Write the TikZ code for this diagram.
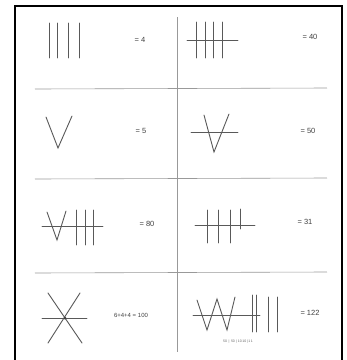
\documentclass[tikz,border=0pt]{standalone}
\usepackage{fontspec}
\setmainfont{Liberation Sans}
\begin{document}
\begin{tikzpicture}[x=1pt,y=-1pt,
  stroke/.style={draw=black!65,line width=0.9pt,line cap=round},
  grid/.style={draw=black!40,line width=0.6pt},
  lab/.style={font=\fontsize{7.5}{8}\selectfont,text=black!75,inner sep=1pt},
  sub/.style={font=\fontsize{3.5}{4}\selectfont,text=black!60,inner sep=0.5pt}]
\useasboundingbox (0,0) rectangle (347,360);
\fill[white] (0,0) rectangle (347,360);
\draw[line width=1.6pt] (15,6) rectangle (342,361);
% grid
\draw[grid] (177,17) -- (177,352);
\draw[grid] (35,89) -- (327,88);
\draw[grid] (35,179) -- (327,178);
\draw[grid] (35,273) -- (327,272);
% row 1 left: 4
\foreach \x in {49,57,68,79} \draw[stroke] (\x,23) -- (\x,58);
\node[lab] (l1) at (140,40) {= 4};
% row 1 right: 40
\foreach \x in {196,205,213,222} \draw[stroke] (\x,22) -- (\x,58);
\draw[stroke] (187,40) -- (238,40);
\node[lab] (l2) at (310,37) {= 40};
% row 2 left: V
\draw[stroke] (46,117) -- (58,148) -- (72,116);
\node[lab] (l3) at (141,131) {= 5};
% row 2 right: crossed V
\draw[stroke] (204,115) -- (214,152) -- (229,114);
\draw[stroke] (191,132) -- (238,132);
\node[lab] (l4) at (308,131) {= 50};
% row 3 left: 80
\draw[stroke] (47,212) -- (57,240) -- (66,211);
\foreach \x in {76,85,93} \draw[stroke] (\x,210) -- (\x,245);
\draw[stroke] (42,226) -- (103,226);
\node[lab] (l5) at (147,224) {= 80};
% row 3 right: 31
\foreach \x in {207,218,230} \draw[stroke] (\x,210) -- (\x,243);
\draw[stroke] (240,209) -- (240,229);
\draw[stroke] (195,225) -- (255,225);
\node[lab] (l6) at (305,222) {= 31};
% row 4 left: star 100
\draw[stroke] (48,293) -- (82,343);
\draw[stroke] (80,293) -- (48,343);
\draw[stroke] (42,318) -- (87,318);
\fill[black!75] (65,318) circle (1.5pt);
\node[lab,font=\fontsize{6}{7}\selectfont] (l7) at (131,315) {6+4+4 = 100};
% row 4 right: 122
\draw[stroke] (197,300) -- (207,330) -- (217,299) -- (227,330) -- (235,297);
\foreach \x in {252,256} \draw[stroke] (\x,295) -- (\x,332);
\draw[stroke] (193,315) -- (260,315);
\foreach \x in {268,277} \draw[stroke] (\x,297) -- (\x,332);
\node[lab] (l8) at (310,313) {= 122};
\node[sub] (s8) at (238,342) {50 \,|\, 50 \,|\,10\,10\,|\,1\,1};
\end{tikzpicture}
\end{document}
